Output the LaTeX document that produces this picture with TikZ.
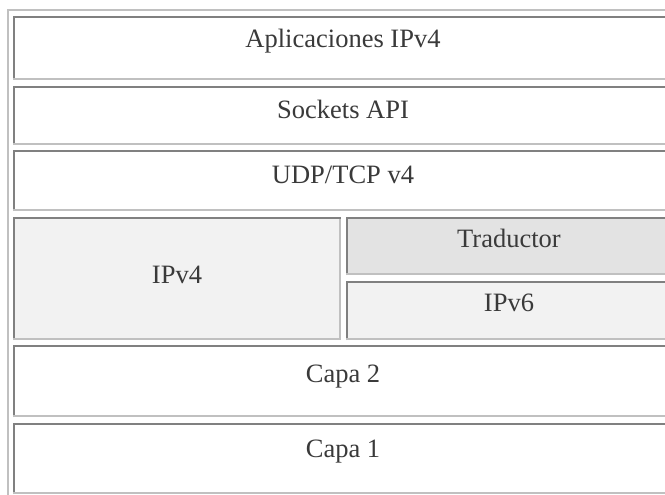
\documentclass[tikz,border=0pt]{standalone}
\usepackage{fontspec}
\setmainfont{Liberation Serif}

\definecolor{bordeoscuro}{HTML}{808080}
\definecolor{bordeclaro}{HTML}{C0C0C0}
\definecolor{fondogris}{HTML}{F2F2F2}
\definecolor{fondotraductor}{HTML}{E3E3E3}
\definecolor{tinta}{HTML}{3A3A3A}

\tikzset{
  oscuro/.style = {draw=bordeoscuro, line width=2pt},
  claro/.style = {draw=bordeclaro, line width=2pt},
  texto/.style = {anchor=base, text=tinta, font=\fontsize{26.5}{30}\selectfont, inner sep=0pt}
}

% celda con borde hundido: x1, y1, x2, y2, relleno
\newcommand{\celda}[5]{%
  \fill[#5] (#1,#2) rectangle (#3,#4);
  \draw[oscuro] (#1+1,#4) -- (#1+1,#2+1) -- (#3,#2+1);
  \draw[claro] (#1,#4-1) -- (#3-1,#4-1) -- (#3-1,#2+2);
}

\begin{document}
\begin{tikzpicture}[x=1pt, y=-1pt]
	\useasboundingbox (0,0) rectangle (665,495);
	\clip (0,0) rectangle (665,495);
	\fill[white] (0,0) rectangle (665,495);
	% borde de la tabla
	\draw[claro] (8,500) -- (8,10) -- (700,10);
	% filas
	\celda{13}{16}{674}{80}{white}
	\celda{13}{86}{674}{145}{white}
	\celda{13}{150}{674}{211}{white}
	\celda{13}{217}{341}{340}{fondogris}
	\celda{346}{217}{674}{275}{fondotraductor}
	\celda{346}{281}{674}{340}{fondogris}
	\celda{13}{345}{674}{417}{white}
	\celda{13}{423}{674}{494}{white}
	% textos
	\node[texto] (aplicaciones) at (343,48) {Aplicaciones IPv4};
	\node[texto] (sockets) at (343,118) {Sockets API};
	\node[texto] (udptcp) at (343,183) {UDP/TCP v4};
	\node[texto] (ipv4) at (177,283) {IPv4};
	\node[texto] (traductor) at (509,247) {Traductor};
	\node[texto] (ipv6) at (509,311) {IPv6};
	\node[texto] (capa2) at (343,382) {Capa 2};
	\node[texto] (capa1) at (343,457) {Capa 1};
\end{tikzpicture}
\end{document}
